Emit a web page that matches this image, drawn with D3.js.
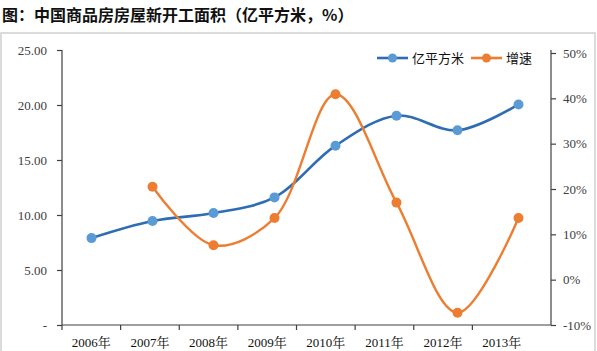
<!DOCTYPE html>
<html><head><meta charset="utf-8">
<script src="https://cdn.jsdelivr.net/npm/d3@7/dist/d3.min.js"></script>
<style>body{margin:0;background:#fff}svg{display:block}</style>
</head><body>
<svg id="c" width="597" height="351"></svg>
<script>
const categories = ["2006年","2007年","2008年","2009年","2010年","2011年","2012年","2013年"];
const area = [7.9, 9.45, 10.18, 11.6, 16.3, 19.03, 17.7, 20.05];
const growth = [null, 20.5, 7.6, 13.6, 40.9, 17.0, -7.3, 13.6];
const leftTicks = [0, 5, 10, 15, 20, 25];
const rightTicks = [-10, 0, 10, 20, 30, 40, 50];
const seriesNames = ["亿平方米", "增速"];

const svg = d3.select("#c");
const serif = "'Liberation Serif','Times New Roman','Noto Serif CJK SC','Noto Sans CJK SC',serif";
const cjk = "'Noto Sans CJK SC','Liberation Serif',sans-serif";
const axisColor = "#404040";

// frame
svg.append("rect").attr("x",1).attr("y",33).attr("width",594).attr("height",320)
  .attr("fill","none").attr("stroke","#d0d0d0").attr("stroke-width",1.5);

svg.append("text").attr("x",2).attr("y",21).text("图：中国商品房房屋新开工面积（亿平方米，%）")
  .attr("font-family",cjk).attr("font-size",16).attr("font-weight","bold").attr("fill","#111");

const x0 = 62, x1 = 551, yTop = 50, yBot = 325;
const xPts = d3.scaleBand().domain(categories).range([61, 549]);
const xLab = d3.scaleBand().domain(categories).range([62, 531]);
const yL = d3.scaleLinear().domain([0, 25]).range([yBot, yTop]);
const yR = d3.scaleLinear().domain([-10, 50]).range([yBot, 53]);

// left axis
const gL = svg.append("g").attr("transform",`translate(${x0},0)`)
  .call(d3.axisLeft(yL).tickValues(leftTicks).tickSize(5).tickPadding(10)
    .tickFormat(d => d === 0 ? "-" : d3.format(".2f")(d)));
// right axis
const gR = svg.append("g").attr("transform",`translate(${x1},0)`)
  .call(d3.axisRight(yR).tickValues(rightTicks).tickSize(5).tickPadding(7)
    .tickFormat(d => d + "%"));
// bottom axis
const gB = svg.append("g").attr("transform",`translate(0,${yBot})`)
  .call(d3.axisBottom(xLab).tickSize(5).tickPadding(8).tickSizeOuter(0));
gB.select(".domain").attr("d", `M${x0},0H${x1}`);
gB.selectAll(".tick line").attr("transform", `translate(${-xLab.bandwidth()/2},0)`);

[gL,gR,gB].forEach(g=>{
  g.selectAll(".domain").attr("stroke",axisColor).attr("stroke-width",1.2);
  g.selectAll(".tick line").attr("stroke",axisColor).attr("stroke-width",1.2);
  g.selectAll("text").attr("font-family",serif).attr("font-size",13).attr("fill","#404040");
});
gL.select(".domain").attr("d", `M0,${yTop}V${yBot}`);
gR.select(".domain").attr("d", `M0,${yTop}V${yBot}`);
gB.selectAll("text").attr("fill","#111");

const cx = d => xPts(d) + xPts.bandwidth()/2;
const curve = d3.curveCatmullRom.alpha(0.5);

const blueLine = "#2e6db4", blueMark = "#5b9bd5", orange = "#ed7d31";

const dA = categories.map((c,i)=>({c, v: area[i]}));
const dG = categories.map((c,i)=>({c, v: growth[i]})).filter(d=>d.v!==null);

svg.append("path").datum(dA).attr("fill","none").attr("stroke",blueLine).attr("stroke-width",2.6)
  .attr("d", d3.line().x(d=>cx(d.c)).y(d=>yL(d.v)).curve(curve));
svg.append("path").datum(dG).attr("fill","none").attr("stroke",orange).attr("stroke-width",2.4)
  .attr("d", d3.line().x(d=>cx(d.c)).y(d=>yR(d.v)).curve(curve));

svg.selectAll(".mA").data(dA).join("circle").attr("cx",d=>cx(d.c)).attr("cy",d=>yL(d.v))
  .attr("r",5).attr("fill",blueMark);
svg.selectAll(".mG").data(dG).join("circle").attr("cx",d=>cx(d.c)).attr("cy",d=>yR(d.v))
  .attr("r",5).attr("fill",orange);

// legend
const leg = [{x:377, col:blueLine, mk:blueMark, name:seriesNames[0]}, {x:471, col:orange, mk:orange, name:seriesNames[1]}];
leg.forEach(l=>{
  svg.append("line").attr("x1",l.x).attr("x2",l.x+31).attr("y1",58).attr("y2",58)
    .attr("stroke",l.col).attr("stroke-width",2.6);
  svg.append("circle").attr("cx",l.x+15.5).attr("cy",58).attr("r",4.5).attr("fill",l.mk);
  svg.append("text").attr("x",l.x+35).attr("y",63).text(l.name)
    .attr("font-family",cjk).attr("font-size",13).attr("fill","#111");
});
</script>
</body></html>
